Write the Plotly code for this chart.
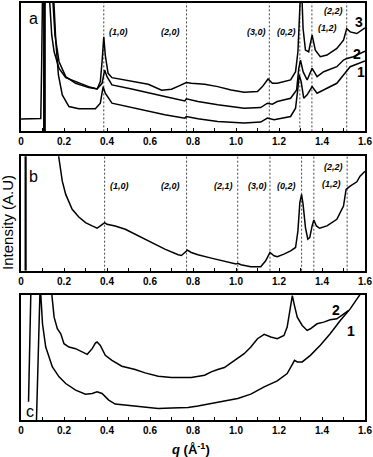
import plotly.graph_objects as go

# ---------------- data ----------------
Q_TICKS = [0, 0.2, 0.4, 0.6, 0.8, 1.0, 1.2, 1.4, 1.6]
Q_TICK_TEXT = ["0", "0.2", "0.4", "0.6", "0.8", "1.0", "1.2", "1.4", "1.6"]
Q_MINOR = [0.1, 0.3, 0.5, 0.7, 0.9, 1.1, 1.3, 1.5]

# panel a (three samples, offset)
A_Q3 = [0.131, 0.143, 0.154, 0.177, 0.208, 0.254, 0.315, 0.354, 0.369, 0.377,
        0.385, 0.392, 0.405, 0.423, 0.515, 0.592, 0.654, 0.700, 0.738, 0.769,
        0.792, 0.854, 0.915, 0.977, 1.038, 1.100, 1.123, 1.149, 1.169, 1.192,
        1.254, 1.277, 1.288, 1.294, 1.300, 1.306, 1.312, 1.323, 1.338, 1.354,
        1.369, 1.392, 1.423, 1.469, 1.500, 1.515, 1.531, 1.562, 1.585, 1.600]
A_I3 = [420, 293, 243, 193, 165, 153, 138, 131, 153, 213,
        288, 233, 178, 165, 153, 145, 127, 130, 141, 150,
        148, 145, 138, 128, 121, 123, 138, 161, 148, 148,
        158, 183, 243, 333, 420, 420, 313, 248, 243, 293,
        248, 228, 233, 253, 278, 313, 303, 298, 308, 315]
A_Q2 = [0.146, 0.158, 0.177, 0.208, 0.254, 0.315, 0.354, 0.377, 0.389, 0.400,
        0.423, 0.515, 0.669, 0.762, 0.769, 0.823, 0.915, 1.038, 1.115, 1.146,
        1.169, 1.192, 1.254, 1.282, 1.292, 1.300, 1.312, 1.331, 1.354, 1.377,
        1.408, 1.469, 1.500, 1.515, 1.546, 1.600]
A_I2 = [420, 293, 213, 168, 148, 135, 131, 148, 188, 168,
        143, 131, 108, 95, 101, 93, 83, 73, 75, 88,
        85, 93, 103, 128, 193, 218, 183, 158, 193, 168,
        183, 198, 218, 223, 228, 245]
A_Q1 = [0.151, 0.162, 0.174, 0.192, 0.223, 0.269, 0.346, 0.369, 0.382, 0.392,
        0.423, 0.515, 0.608, 0.669, 0.762, 0.769, 0.823, 0.915, 1.038, 1.115,
        1.146, 1.177, 1.254, 1.277, 1.288, 1.294, 1.303, 1.315, 1.331, 1.354,
        1.377, 1.408, 1.469, 1.500, 1.531, 1.600]
A_I1 = [420, 273, 173, 113, 78, 71, 71, 88, 138, 118,
        88, 75, 63, 53, 43, 48, 41, 33, 28, 31,
        43, 38, 48, 73, 133, 173, 153, 103, 113, 138,
        118, 128, 148, 173, 198, 215]
A_BEAM_Q = [0.0, 0.092, 0.096, 0.100]
A_BEAM_I = [40, 42, 200, 420]
A_STOP_Q = 0.109
PEAKS_A = [0.385, 0.770, 1.155, 1.297, 1.353, 1.515]
PEAK_LABELS_A = ["(1,0)", "(2,0)", "(3,0)", "(0,2)", "(1,2)", "(2,2)"]
SERIES_A = ["3", "2", "1"]

# panel b
B_Q = [0.174, 0.192, 0.208, 0.238, 0.269, 0.300, 0.331, 0.354, 0.369, 0.389,
       0.400, 0.438, 0.485, 0.546, 0.608, 0.669, 0.731, 0.746, 0.762, 0.774,
       0.792, 0.823, 0.885, 0.946, 1.000, 1.008, 1.023, 1.069, 1.115, 1.138,
       1.158, 1.177, 1.192, 1.223, 1.254, 1.277, 1.288, 1.297, 1.305, 1.312,
       1.323, 1.334, 1.343, 1.354, 1.362, 1.374, 1.389, 1.423, 1.469, 1.500,
       1.512, 1.531, 1.562, 1.577, 1.600]
B_I = [350, 270, 230, 185, 162, 145, 135, 128, 135, 145,
       140, 135, 125, 105, 85, 65, 48, 46, 55, 62,
       55, 48, 38, 28, 20, 22, 18, 12, 12, 30,
       55, 45, 42, 50, 60, 70, 120, 205, 230, 200,
       130, 95, 100, 135, 153, 135, 128, 135, 155, 195,
       245, 255, 268, 285, 300]
B_STOP_Q = 0.0215
PEAKS_B = [0.389, 0.770, 1.008, 1.158, 1.305, 1.362, 1.517]
PEAK_LABELS_B = ["(1,0)", "(2,0)", "(2,1)", "(3,0)", "(0,2)", "(1,2)", "(2,2)"]

# panel c
C_Q1 = [0.072, 0.088, 0.090, 0.092, 0.100, 0.115, 0.146, 0.177, 0.208, 0.254,
        0.300, 0.331, 0.354, 0.377, 0.408, 0.438, 0.485, 0.515, 0.577, 0.638,
        0.700, 0.777, 0.823, 0.885, 0.946, 1.008, 1.069, 1.131, 1.192, 1.238,
        1.262, 1.272, 1.285, 1.308, 1.346, 1.392, 1.438, 1.485, 1.531, 1.574,
        1.600]
C_I1 = [0, 378, 430, 378, 290, 220, 160, 130, 110, 90,
        78, 80, 85, 80, 60, 48, 45, 43, 37, 35,
        36, 38, 42, 50, 57, 65, 78, 100, 118, 140,
        168, 180, 175, 175, 195, 225, 260, 300, 335, 375,
        400]
C_Q2 = [0.140, 0.154, 0.169, 0.185, 0.200, 0.223, 0.254, 0.285, 0.308, 0.331,
        0.346, 0.354, 0.369, 0.392, 0.423, 0.469, 0.500, 0.531, 0.577, 0.638,
        0.700, 0.762, 0.792, 0.854, 0.885, 0.915, 0.946, 0.977, 1.008, 1.038,
        1.069, 1.100, 1.131, 1.162, 1.192, 1.223, 1.238, 1.251, 1.262, 1.272,
        1.285, 1.308, 1.331, 1.346, 1.377, 1.408, 1.438, 1.469, 1.500, 1.523]
C_I2 = [400, 310, 275, 260, 230, 220, 215, 205, 198, 215,
        232, 235, 225, 195, 180, 162, 158, 152, 142, 132,
        128, 128, 128, 135, 145, 152, 158, 172, 185, 200,
        220, 245, 258, 250, 245, 255, 280, 330, 375, 345,
        310, 285, 270, 275, 290, 295, 302, 305, 318, 330]
C_HANG_Q = [0.046, 0.035]
C_HANG_I = [390, 55]
SERIES_C = ["2", "1"]

# ---------------- figure ----------------
fig = go.Figure()


def add(x, y, xa, ya, width=1.5):
    fig.add_trace(go.Scatter(x=x, y=y, xaxis=xa, yaxis=ya, mode="lines",
                             line=dict(color="black", width=width),
                             hoverinfo="skip", showlegend=False))


# panel a
add(A_Q3, A_I3, "x", "y")
add(A_Q2, A_I2, "x", "y")
add(A_Q1, A_I1, "x", "y")
add(A_BEAM_Q, A_BEAM_I, "x", "y")
add([A_STOP_Q, A_STOP_Q], [0, 420], "x", "y", width=2.8)
# panel b
add(B_Q, B_I, "x2", "y2")
add([B_STOP_Q, B_STOP_Q], [0, 360], "x2", "y2", width=2.2)
# panel c
add(C_Q2, C_I2, "x3", "y3")
add(C_Q1, C_I1, "x3", "y3")
add(C_HANG_Q, C_HANG_I, "x3", "y3")

shapes = []
for p in PEAKS_A:
    shapes.append(dict(type="line", xref="x", yref="y domain", x0=p, x1=p, y0=0, y1=1,
                       line=dict(color="#444444", width=1, dash="2px,2px"), layer="below"))
for p in PEAKS_B:
    shapes.append(dict(type="line", xref="x2", yref="y2 domain", x0=p, x1=p, y0=0, y1=1,
                       line=dict(color="#444444", width=1, dash="2px,2px"), layer="below"))
fig.update_layout(shapes=shapes)

ann = []
PK_FONT = dict(family="Liberation Sans, Arial, sans-serif", size=9, color="black")
a_place = [(3.5, "left", 0.775), (-4.5, "right", 0.775), (-1.5, "right", 0.775),
           (-2.0, "right", 0.775), (4.0, "left", 0.806), (-1.5, "right", 0.938)]
for p, lab, (dx, anc, yy) in zip(PEAKS_A, PEAK_LABELS_A, a_place):
    ann.append(dict(x=p, y=yy, xref="x", yref="y domain", text="<b><i>%s</i></b>" % lab,
                    showarrow=False, xanchor=anc, yanchor="middle", xshift=dx, font=PK_FONT))
b_place = [(3.5, "left", 0.739), (-4.5, "right", 0.739), (-3.0, "right", 0.739),
           (-1.0, "right", 0.739), (-4.0, "right", 0.739), (6.0, "left", 0.757),
           (-2.0, "right", 0.907)]
for p, lab, (dx, anc, yy) in zip(PEAKS_B, PEAK_LABELS_B, b_place):
    ann.append(dict(x=p, y=yy, xref="x2", yref="y2 domain", text="<b><i>%s</i></b>" % lab,
                    showarrow=False, xanchor=anc, yanchor="middle", xshift=dx, font=PK_FONT))

NUM_FONT = dict(family="Liberation Sans, Arial, sans-serif", size=14, color="black")
for lab, (xx, yy) in zip(SERIES_A, [(0.982, 0.853), (0.977, 0.605), (0.988, 0.465)]):
    ann.append(dict(x=xx, y=yy, xref="x domain", yref="y domain", text="<b>%s</b>" % lab,
                    showarrow=False, xanchor="center", yanchor="middle", font=NUM_FONT))
for lab, (xx, yy) in zip(SERIES_C, [(0.915, 0.881), (0.959, 0.706)]):
    ann.append(dict(x=xx, y=yy, xref="x3 domain", yref="y3 domain", text="<b>%s</b>" % lab,
                    showarrow=False, xanchor="center", yanchor="middle", font=NUM_FONT))

LET_FONT = dict(family="Liberation Sans, Arial, sans-serif", size=16, color="black")
ann.append(dict(x=0.035, y=0.876, xref="x domain", yref="y domain", text="a",
                showarrow=False, xanchor="center", yanchor="middle", font=LET_FONT))
ann.append(dict(x=0.035, y=0.826, xref="x2 domain", yref="y2 domain", text="b",
                showarrow=False, xanchor="center", yanchor="middle", font=LET_FONT))
ann.append(dict(x=0.026, y=0.07, xref="x3 domain", yref="y3 domain", text="c",
                showarrow=False, xanchor="center", yanchor="middle", font=LET_FONT))

ann.append(dict(x=-0.0377, y=0.4726, xref="paper", yref="paper", text="Intensity (A.U)",
                textangle=-90, showarrow=False, xanchor="center", yanchor="middle",
                font=dict(family="Liberation Sans, Arial, sans-serif", size=15, color="black")))
ann.append(dict(x=0.493, y=-0.069, xref="paper", yref="paper",
                text="<b><i>q</i> (Å<sup>-1</sup>)</b>",
                showarrow=False, xanchor="center", yanchor="middle",
                font=dict(family="Liberation Sans, Arial, sans-serif", size=13, color="black")))
fig.update_layout(annotations=ann)

xcommon = dict(range=[0, 1.6], tickmode="array", tickvals=Q_TICKS, ticktext=Q_TICK_TEXT,
               ticks="inside", ticklen=3, tickwidth=1.2, tickcolor="black",
               ticklabeloverflow="allow",
               minor=dict(tickmode="array", tickvals=Q_MINOR, ticks="inside", ticklen=3,
                          tickwidth=1.2, tickcolor="black", showgrid=False),
               showline=True, linewidth=2, linecolor="black", mirror=True,
               showgrid=False, zeroline=False,
               tickfont=dict(family="Liberation Sans, Arial, sans-serif", size=10,
                             color="black", weight="bold"))
ycommon = dict(showline=True, linewidth=2, linecolor="black", mirror=True,
               showgrid=False, zeroline=False, showticklabels=False, ticks="")

fig.update_layout(
    width=373, height=457,
    margin=dict(l=21, r=7, t=1, b=37),
    plot_bgcolor="white", paper_bgcolor="white", showlegend=False,
    xaxis=dict(domain=[0, 1], anchor="y", **xcommon),
    xaxis2=dict(domain=[0, 1], anchor="y2", **xcommon),
    xaxis3=dict(domain=[0, 1], anchor="y3", **xcommon),
    yaxis=dict(domain=[0.6921, 1.0], anchor="x", range=[3, 390], **ycommon),
    yaxis2=dict(domain=[0.358, 0.6325], anchor="x2", range=[0, 345], **ycommon),
    yaxis3=dict(domain=[0.0, 0.3007], anchor="x3", range=[0, 378], **ycommon),
)

fig.write_html("out.html", config={"displayModeBar": False},
               post_script="document.body.style.margin='0';document.body.style.overflow='hidden';")
